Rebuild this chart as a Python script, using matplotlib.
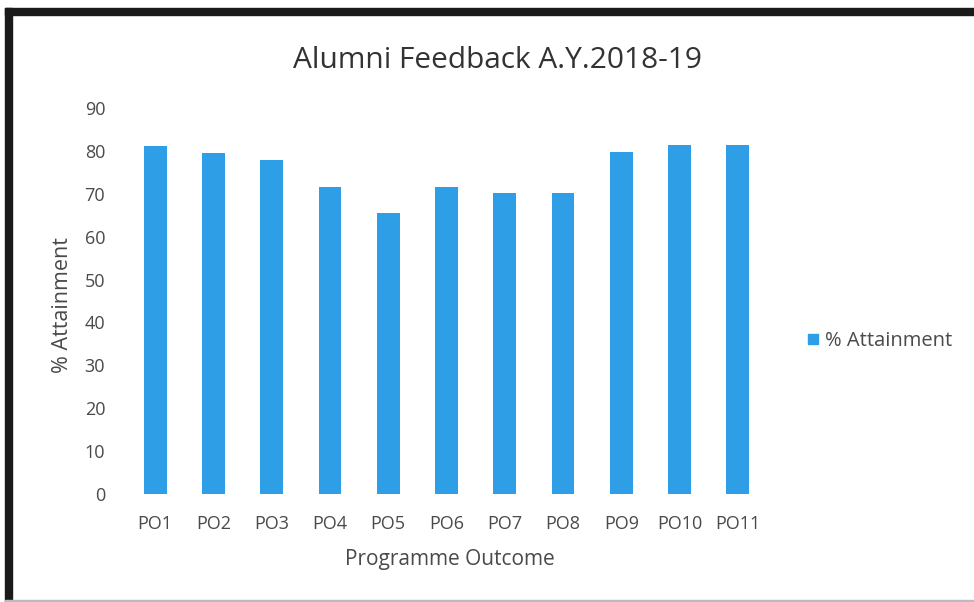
import matplotlib.pyplot as plt
from matplotlib.patches import Rectangle
from matplotlib.lines import Line2D

# values
outcomes = ['PO1', 'PO2', 'PO3', 'PO4', 'PO5', 'PO6', 'PO7', 'PO8', 'PO9', 'PO10', 'PO11']
attainment = [81.2, 79.6, 77.9, 71.6, 65.6, 71.6, 70.2, 70.2, 79.8, 81.5, 81.5]
y_ticks = [0, 10, 20, 30, 40, 50, 60, 70, 80, 90]

bar_color = '#2E9EE6'
text_color = '#4a4a4a'

plt.rcParams['font.family'] = ['Open Sans', 'DejaVu Sans']

fig = plt.figure(figsize=(9.74, 6.02), dpi=100)
ax = fig.add_axes([0.1294, 0.1794, 0.658, 0.641])

ax.bar(range(len(outcomes)), attainment, width=0.39, color=bar_color)
ax.set_xlim(-0.5, len(outcomes) - 0.5)
ax.set_ylim(0, 90)
ax.set_yticks(y_ticks)
ax.set_xticks(range(len(outcomes)))
ax.set_xticklabels(outcomes)

for s in ax.spines.values():
    s.set_visible(False)
ax.tick_params(length=0, labelsize=13, colors=text_color)
ax.tick_params(axis='y', pad=15)
ax.tick_params(axis='x', pad=15)

# axis titles placed where they sit on the scan
fig.text(449.5 / 974, 1 - 559 / 602, 'Programme Outcome', fontsize=15,
         color=text_color, ha='center', va='center')
fig.text(63 / 974, 1 - 305 / 602, '% Attainment', fontsize=15.5,
         color=text_color, ha='center', va='center', rotation=90)

fig.text(0.511, 0.90, 'Alumni Feedback A.Y.2018-19', fontsize=21.5,
         color='#333333', ha='center', va='center')

handle = Line2D([], [], marker='s', color=bar_color, linestyle='none', markersize=7)
fig.legend([handle], ['% Attainment'], loc='center left', bbox_to_anchor=(0.806, 0.433),
           frameon=False, fontsize=14.5, handletextpad=0.1, handlelength=1.0,
           labelcolor=text_color)

# scanned page border: thick top and left, faint bottom
fig.patches.append(Rectangle((0.005, 0.975), 0.995, 0.012, transform=fig.transFigure,
                             color='#1a1a1a', zorder=5))
fig.patches.append(Rectangle((0.005, 0.0), 0.007, 0.987, transform=fig.transFigure,
                             color='#1a1a1a', zorder=5))
fig.patches.append(Rectangle((0.005, 0.0), 0.995, 0.004, transform=fig.transFigure,
                             color='#bbbbbb', zorder=5))

fig.savefig('out.png', dpi=100)
